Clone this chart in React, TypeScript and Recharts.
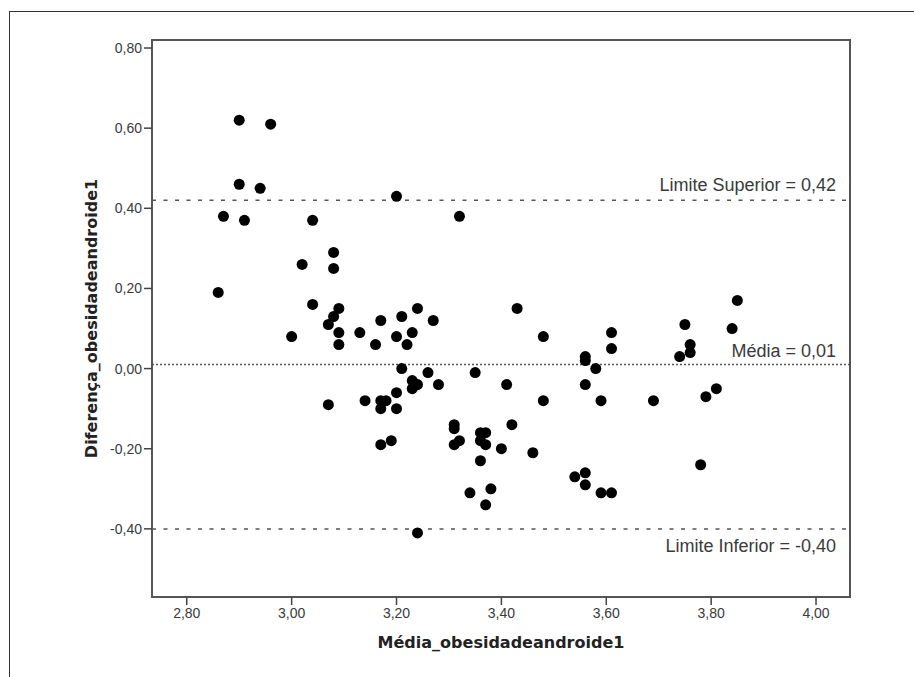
import React from 'react';
import { ScatterChart, Scatter, XAxis, YAxis, ReferenceLine, ReferenceArea, Label } from 'recharts';

const meanValues = [
  2.90, 2.96, 2.90, 2.94, 3.20, 2.87, 2.91, 3.04, 3.32, 3.08,
  3.02, 3.08, 2.86, 3.04, 3.09, 3.08, 3.07, 3.17, 3.21, 3.24,
  3.27, 3.00, 3.09, 3.13, 3.09, 3.16, 3.20, 3.23, 3.22, 3.21,
  3.26, 3.35, 3.23, 3.24, 3.23, 3.28, 3.20, 3.07, 3.14, 3.17,
  3.18, 3.17, 3.20, 3.31, 3.31, 3.32, 3.31, 3.17, 3.19, 3.36,
  3.37, 3.36, 3.37, 3.40, 3.36, 3.34, 3.38, 3.37, 3.24,
  3.43, 3.85, 3.75, 3.84, 3.61, 3.48, 3.61, 3.56, 3.56, 3.76,
  3.76, 3.74, 3.58, 3.41, 3.56, 3.48, 3.59, 3.69, 3.81, 3.79,
  3.42, 3.46, 3.78, 3.54, 3.56, 3.56, 3.59, 3.61,
];

const diffValues = [
  0.62, 0.61, 0.46, 0.45, 0.43, 0.38, 0.37, 0.37, 0.38, 0.29,
  0.26, 0.25, 0.19, 0.16, 0.15, 0.13, 0.11, 0.12, 0.13, 0.15,
  0.12, 0.08, 0.09, 0.09, 0.06, 0.06, 0.08, 0.09, 0.06, 0.00,
  -0.01, -0.01, -0.03, -0.04, -0.05, -0.04, -0.06, -0.09, -0.08, -0.08,
  -0.08, -0.10, -0.10, -0.14, -0.15, -0.18, -0.19, -0.19, -0.18, -0.16,
  -0.16, -0.18, -0.19, -0.20, -0.23, -0.31, -0.30, -0.34, -0.41,
  0.15, 0.17, 0.11, 0.10, 0.09, 0.08, 0.05, 0.03, 0.02, 0.06,
  0.04, 0.03, 0.00, -0.04, -0.04, -0.08, -0.08, -0.08, -0.05, -0.07,
  -0.14, -0.21, -0.24, -0.27, -0.26, -0.29, -0.31, -0.31,
];

const xTicks = [2.8, 3.0, 3.2, 3.4, 3.6, 3.8, 4.0];
const yTicks = [-0.4, -0.2, 0.0, 0.2, 0.4, 0.6, 0.8];
const xDomain = [2.7337, 4.0648];
const yDomain = [-0.57, 0.82];

const upperLimit = 0.42;
const meanDiff = 0.01;
const lowerLimit = -0.40;

const data = meanValues.map((x, i) => ({ x, y: diffValues[i] }));

const fmt = (v: number) => v.toFixed(2).replace('.', ',');

const Dot = (props: any) => <circle cx={props.cx} cy={props.cy} r={5.5} fill="#000" />;

const tickStyle = { fontFamily: '"Liberation Sans", Arial, sans-serif', fontSize: 14, fill: '#3a3a3a' };
const refLabelStyle = { fontFamily: '"Liberation Sans", Arial, sans-serif', fontSize: 18, fill: '#3a3a3a' };
const titleStyle = { fontFamily: '"DejaVu Sans", sans-serif', fontSize: 16, fontWeight: 'bold', fill: '#222' };

export default function App() {
  return (
    <div style={{ position: 'absolute', left: 0, top: 0, width: 914, height: 677, background: '#fff' }}>
      <div style={{ position: 'absolute', left: 9, top: 11, width: 905, height: 666, borderTop: '1.5px solid #333', borderLeft: '1.5px solid #333' }} />
      <div style={{ position: 'absolute', left: 0, top: 0 }}>
        <ScatterChart width={914} height={677} margin={{ top: 40, right: 64, left: 92, bottom: 40 }}>
          <XAxis
            type="number"
            dataKey="x"
            domain={xDomain}
            ticks={xTicks}
            allowDataOverflow
            tickFormatter={fmt}
            height={40}
            tickSize={8}
            tickMargin={3}
            tick={tickStyle}
            axisLine={{ stroke: '#555', strokeWidth: 2 }}
            tickLine={{ stroke: '#444', strokeWidth: 1.5 }}
          >
            <Label value="Média_obesidadeandroide1" position="bottom" offset={0} style={titleStyle} />
          </XAxis>
          <YAxis
            type="number"
            dataKey="y"
            domain={yDomain}
            ticks={yTicks}
            allowDataOverflow
            tickFormatter={fmt}
            width={60}
            tickSize={8}
            tickMargin={2}
            tick={tickStyle}
            axisLine={{ stroke: '#555', strokeWidth: 2 }}
            tickLine={{ stroke: '#444', strokeWidth: 1.5 }}
          >
            <Label value="Diferença_obesidadeandroide1" position="insideLeft" offset={-1} angle={-90} style={{ ...titleStyle, textAnchor: 'middle' }} />
          </YAxis>
          <ReferenceArea x1={xDomain[0]} x2={xDomain[1]} y1={yDomain[0]} y2={yDomain[1]} fill="none" stroke="#555" strokeWidth={2} ifOverflow="extendDomain" />
          <ReferenceLine y={upperLimit} stroke="#555" strokeWidth={1.5} strokeDasharray="4 7.5">
            <Label value={`Limite Superior = ${fmt(upperLimit)}`} position="insideBottomRight" offset={9} dx={-5} style={refLabelStyle} />
          </ReferenceLine>
          <ReferenceLine y={meanDiff} stroke="#555" strokeWidth={1.5} strokeDasharray="2 2">
            <Label value={`Média = ${fmt(meanDiff)}`} position="insideBottomRight" offset={8} dx={-6} style={refLabelStyle} />
          </ReferenceLine>
          <ReferenceLine y={lowerLimit} stroke="#555" strokeWidth={1.5} strokeDasharray="4 7.5">
            <Label value={`Limite Inferior = ${fmt(lowerLimit)}`} position="insideTopRight" offset={10} dx={-4} style={refLabelStyle} />
          </ReferenceLine>
          <Scatter data={data} shape={Dot} isAnimationActive={false} />
        </ScatterChart>
      </div>
    </div>
  );
}
